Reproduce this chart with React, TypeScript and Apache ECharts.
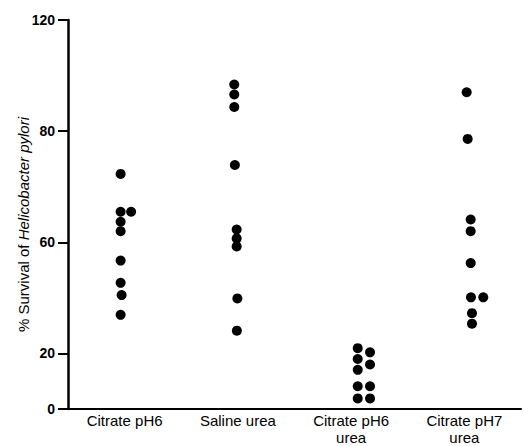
import React, { useEffect, useRef } from "react";
import * as echarts from "echarts";

// Groups on the x axis
const categories = ["Citrate pH6", "Saline urea", "Citrate pH6\nurea", "Citrate pH7\nurea"];

// % survival read against the printed tick labels
const citratePH6 = [72.3, 65.5, 65.5, 63.7, 62.0, 53.4, 45.4, 41.0, 33.9];
const salineUrea = [96.8, 93.2, 88.7, 73.9, 62.3, 60.7, 58.5, 39.8, 28.2];
const citratePH6Urea = [21.9, 20.4, 18.0, 16.0, 14.1, 8.2, 8.2, 3.8, 3.8];
const citratePH7Urea = [94.0, 78.6, 64.1, 62.0, 52.5, 40.2, 40.2, 34.5, 30.7];

// Printed tick labels, and the evenly spaced axis slots they sit on (printed axis is not linear)
const yTickLabels = [0, 20, 60, 80, 120];
const yTickSlots = [0, 20, 60, 100, 140];

// Horizontal pixel shifts of each dot (style, not data)
const dotShift = [
  [-4, -4, 6.5, -4, -4, -4, -4, -3, -4],
  [-3.6, -3.6, -3.6, -3, -1.2, -1.2, -1.2, -0.5, -1],
  [6.6, 18.9, 6.6, 18.9, 6.6, 6.6, 18.9, 6.6, 18.9],
  [2.3, 3.3, 6.3, 6.3, 6.3, 6.6, 18.9, 7.6, 7.6],
];

const groups = [citratePH6, salineUrea, citratePH6Urea, citratePH7Urea];

function toSlot(v: number): number {
  for (let i = 1; i < yTickLabels.length; i++) {
    if (v <= yTickLabels[i]) {
      const a = yTickLabels[i - 1], b = yTickLabels[i];
      const sa = yTickSlots[i - 1], sb = yTickSlots[i];
      return sa + ((v - a) / (b - a)) * (sb - sa);
    }
  }
  return yTickSlots[yTickSlots.length - 1];
}

export default function App() {
  const ref = useRef<HTMLDivElement>(null);
  useEffect(() => {
    if (!ref.current) return;
    const chart = echarts.init(ref.current, null, { renderer: "svg" });
    const data: any[] = [];
    groups.forEach((vals, gi) => {
      vals.forEach((v, di) => {
        data.push({
          value: [gi, toSlot(v)],
          symbolOffset: [dotShift[gi][di], 0],
        });
      });
    });
    const font = "'Liberation Sans', Arial, sans-serif";
    chart.setOption({
      animation: false,
      backgroundColor: "#fff",
      grid: { left: 68, right: 4, top: 20, bottom: 33.5, containLabel: false },
      xAxis: {
        type: "category",
        data: categories,
        boundaryGap: true,
        axisLine: { show: true, lineStyle: { color: "#000", width: 2 } },
        axisTick: { show: false },
        splitLine: { show: false },
        axisLabel: {
          interval: 0,
          color: "#000",
          fontSize: 15,
          fontFamily: font,
          margin: 3,
          lineHeight: 17,
        },
      },
      yAxis: {
        type: "value",
        min: 0,
        max: 140,
        splitLine: { show: false },
        axisLine: { show: true, lineStyle: { color: "#000", width: 2.5 } },
        axisTick: {
          show: true,
          inside: false,
          length: 10,
          customValues: yTickSlots,
          lineStyle: { color: "#000", width: 2 },
        },
        axisLabel: {
          customValues: yTickSlots,
          color: "#000",
          fontSize: 14,
          fontWeight: "bold",
          fontFamily: font,
          margin: 13,
          formatter: (val: number) => {
            const idx = yTickSlots.indexOf(val);
            return idx >= 0 ? String(yTickLabels[idx]) : "";
          },
        },
        name: "% Survival of {i|Helicobacter pylori}",
        nameLocation: "middle",
        nameGap: 37,
        nameMoveOverlap: false,
        nameTextStyle: {
          color: "#000",
          fontSize: 15,
          fontFamily: font,
          padding: [0, 20, 0, 0],
          rich: {
            i: { fontStyle: "italic", fontSize: 15, fontFamily: font, color: "#000" },
          },
        },
      },
      series: [
        {
          type: "scatter",
          data,
          symbol: "circle",
          symbolSize: 10,
          itemStyle: { color: "#000", opacity: 1 },
        },
      ],
    });
    return () => chart.dispose();
  }, []);
  return (
    <div
      ref={ref}
      style={{ position: "fixed", left: 0, top: 0, width: 525, height: 446, background: "#fff" }}
    />
  );
}
